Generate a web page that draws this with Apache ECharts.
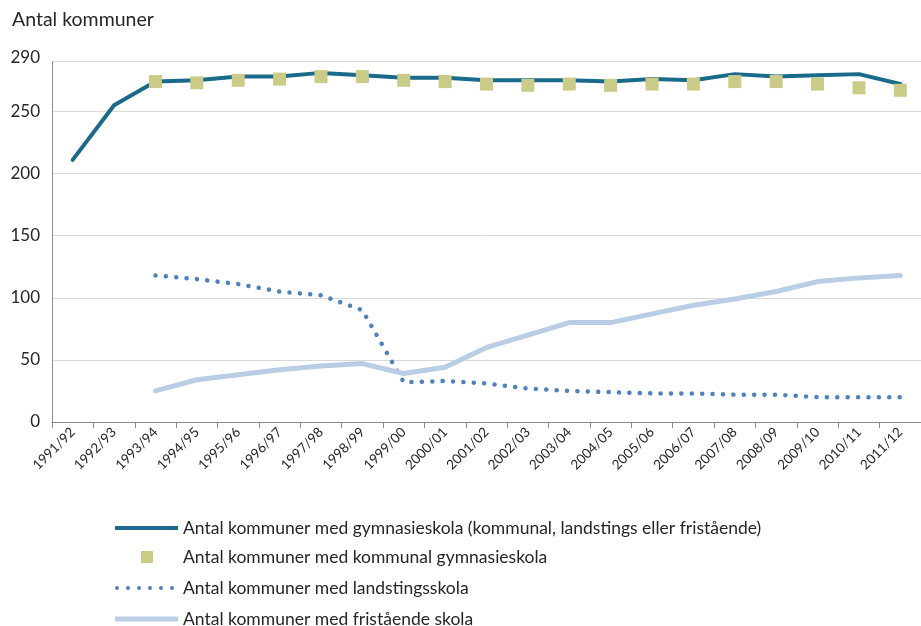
<!DOCTYPE html>
<html>
<head>
<meta charset="utf-8">
<script src="https://cdn.jsdelivr.net/npm/echarts@6/dist/echarts.min.js"></script>
<style>
  html, body { margin: 0; padding: 0; background: #fff; }
  #chart { width: 921px; height: 626px; }
</style>
</head>
<body>
<div id="chart"></div>
<script>
// School years
const years = ['1991/92','1992/93','1993/94','1994/95','1995/96','1996/97','1997/98',
  '1998/99','1999/00','2000/01','2001/02','2002/03','2003/04','2004/05','2005/06',
  '2006/07','2007/08','2008/09','2009/10','2010/11','2011/12'];

// Municipalities with any upper secondary school (municipal, county or independent)
const totalSchools = [211, 255, 274, 275, 278, 278, 281, 279, 277, 277, 275,
  275, 275, 274, 276, 275, 280, 278, 279, 280, 272];

// Municipalities with a municipal upper secondary school
const municipalSchools = [null, null, 274, 273, 275, 276, 278, 278, 275, 274, 272,
  271, 272, 271, 272, 272, 274, 274, 272, 269, 267];

// Municipalities with a county school
const countySchools = [null, null, 118, 115, 111, 105, 102, 90, 32, 33, 31,
  27, 25, 24, 23, 23, 22, 22, 20, 20, 20];

// Municipalities with an independent school
const independentSchools = [null, null, 25, 34, 38, 42, 45, 47, 39, 44, 60,
  70, 80, 80, 87, 94, 99, 105, 113, 116, 118];

const yTicksMax = 290;

const names = [
  'Antal kommuner med gymnasieskola (kommunal, landstings eller fristående)',
  'Antal kommuner med kommunal gymnasieskola',
  'Antal kommuner med landstingsskola',
  'Antal kommuner med fristående skola'
];

const font = 'Lato, "Open Sans", sans-serif';
const textColor = '#262626';

// Legend icon shapes
const dotsIcon = 'path://' + [0, 1, 2, 3, 4, 5].map(i => {
  const x = 2 + i * 11;
  return 'M' + (x - 2) + ',2 a2,2 0 1,0 4,0 a2,2 0 1,0 -4,0 Z';
}).join(' ');

function legendRow(name, icon, centerY, opts) {
  const o = opts || {};
  const h = o.itemHeight || 14;
  return {
    show: true,
    orient: 'vertical',
    padding: 0,
    left: o.left || 115,
    top: centerY - h / 2,
    itemWidth: o.itemWidth || 63,
    itemHeight: h,
    symbolKeepAspect: true,
    selectedMode: false,
    textStyle: {
      fontFamily: font, fontSize: 17.5, color: textColor, lineHeight: h,
      padding: o.textPad || [0, 0, 0, 0]
    },
    data: [{ name: name, icon: icon }]
  };
}

const chart = echarts.init(document.getElementById('chart'), null, { renderer: 'canvas' });

chart.setOption({
  animation: false,
  backgroundColor: '#ffffff',
  title: {
    text: 'Antal kommuner',
    left: 12,
    top: 10,
    padding: 0,
    textStyle: { fontFamily: font, fontSize: 19.5, fontWeight: 'normal', color: textColor }
  },
  grid: { left: 52, right: -11, top: 61.7, bottom: 204, containLabel: false },
  legend: [
    legendRow(names[0], 'path://M0,0 L63,0 L63,4 L0,4 Z', 526),
    legendRow(names[1], 'path://M0,0 L12,0 L12,12 L0,12 Z', 554,
      { itemHeight: 12, itemWidth: 12, left: 141, textPad: [0, 0, 0, 25] }),
    legendRow(names[2], dotsIcon, 586, { itemWidth: 59, textPad: [0, 0, 0, 4] }),
    legendRow(names[3], 'path://M0,0 L63,0 L63,5 L0,5 Z', 617)
  ],
  xAxis: {
    type: 'category',
    data: years,
    boundaryGap: true,
    axisLine: { show: true, lineStyle: { color: '#8c8c8c', width: 1 } },
    axisTick: { show: true, alignWithLabel: false, length: 6, lineStyle: { color: '#8c8c8c' } },
    axisLabel: {
      rotate: 45,
      interval: 0,
      margin: 8,
      fontFamily: font,
      fontSize: 13.5,
      color: textColor
    },
    splitLine: { show: false }
  },
  yAxis: {
    type: 'value',
    min: 0,
    max: yTicksMax,
    interval: 50,
    axisLine: { show: true, lineStyle: { color: '#8c8c8c', width: 1 } },
    axisTick: { show: false },
    axisLabel: {
      margin: 12,
      fontFamily: font,
      fontSize: 17,
      color: textColor,
      formatter: v => (v === yTicksMax ? '{top|' + v + '}' : String(v)),
      rich: { top: { fontFamily: font, fontSize: 17, color: textColor, padding: [0, 0, 8, 0] } }
    },
    splitLine: { show: true, lineStyle: { color: '#d9d9d9', width: 1 } }
  },
  series: [
    {
      name: names[0],
      type: 'line',
      data: totalSchools,
      symbol: 'none',
      itemStyle: { color: '#1a6b8a' },
      lineStyle: { color: '#1a6b8a', width: 4, cap: 'round', join: 'round' },
      z: 3
    },
    {
      name: names[1],
      type: 'scatter',
      data: municipalSchools,
      symbol: 'rect',
      symbolSize: 13,
      itemStyle: { color: '#cacb86', opacity: 1 },
      z: 4
    },
    {
      name: names[2],
      type: 'line',
      data: countySchools,
      symbol: 'none',
      itemStyle: { color: '#4f81bd' },
      lineStyle: { color: '#4f81bd', width: 4.5, type: [0.1, 10.3], cap: 'round' },
      z: 2
    },
    {
      name: names[3],
      type: 'line',
      data: independentSchools,
      symbol: 'none',
      itemStyle: { color: '#b9cde5' },
      lineStyle: { color: '#b9cde5', width: 5, cap: 'round', join: 'round' },
      z: 2
    }
  ]
});
</script>
</body>
</html>
